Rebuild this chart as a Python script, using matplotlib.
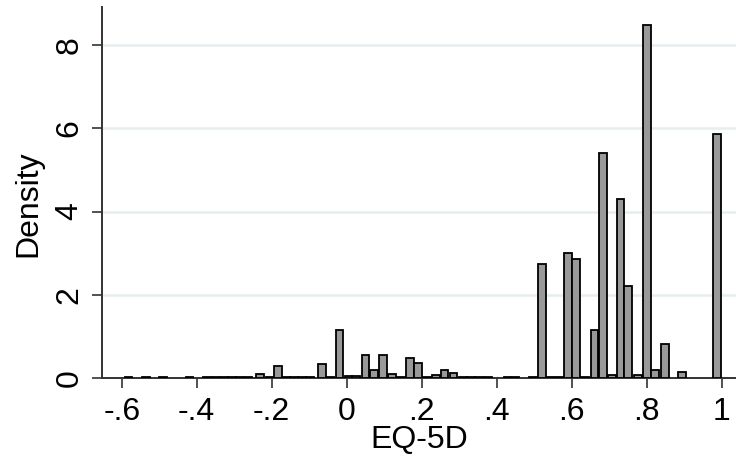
import matplotlib
matplotlib.use("Agg")
import matplotlib.pyplot as plt

# ---- data (EQ-5D value at bar centre, density) ----
eq5d_values = [
    -0.582, -0.536, -0.490, -0.419,
    -0.372, -0.350, -0.328, -0.306, -0.284, -0.262,
    -0.231, -0.206, -0.183,
    -0.162, -0.140, -0.119, -0.098,
    -0.066, -0.045, -0.019,
    0.005, 0.025, 0.050, 0.072, 0.097, 0.120, 0.144,
    0.168, 0.190, 0.214, 0.238, 0.261, 0.285,
    0.310, 0.332, 0.353, 0.376,
    0.429, 0.450, 0.496, 0.520, 0.542, 0.566,
    0.590, 0.611, 0.636, 0.661, 0.684, 0.707,
    0.730, 0.751, 0.776, 0.800, 0.822, 0.848, 0.894, 0.988,
]
density = [
    0.035, 0.035, 0.035, 0.035,
    0.02, 0.02, 0.02, 0.02, 0.02, 0.02,
    0.10, 0.02, 0.30,
    0.02, 0.02, 0.02, 0.02,
    0.34, 0.03, 1.16,
    0.05, 0.05, 0.57, 0.19, 0.57, 0.10, 0.02,
    0.49, 0.37, 0.02, 0.09, 0.19, 0.12,
    0.02, 0.02, 0.02, 0.02,
    0.02, 0.02, 0.03, 2.74, 0.02, 0.02,
    3.00, 2.86, 0.02, 1.16, 5.40, 0.07,
    4.31, 2.22, 0.07, 8.48, 0.20, 0.82, 0.16, 5.85,
]
x_ticks = [-0.6, -0.4, -0.2, 0, 0.2, 0.4, 0.6, 0.8, 1.0]
x_tick_labels = ["-.6", "-.4", "-.2", "0", ".2", ".4", ".6", ".8", "1"]
y_ticks = [0, 2, 4, 6, 8]
y_tick_labels = ["0", "2", "4", "6", "8"]

plt.rcParams["font.family"] = ["Liberation Sans", "DejaVu Sans"]

W, H = 736, 461
fig = plt.figure(figsize=(W / 100, H / 100), dpi=100)
fig.patch.set_facecolor("white")

left_px, right_px, bottom_px, top_px = 101.7, 736, 378.3, 7.3
ax = fig.add_axes([left_px / W, (H - bottom_px) / H,
                   (right_px - left_px) / W, (bottom_px - top_px) / H])
ax.set_facecolor("white")

ax.bar(eq5d_values, density, width=0.0205, color="#999999",
       edgecolor="black", linewidth=1.3, zorder=3)

ax.set_xlim(-0.6533, 1.0381)
ax.set_ylim(0, 8.90)

ax.set_xticks(x_ticks)
ax.set_xticklabels(x_tick_labels)
ax.set_yticks(y_ticks)
ax.set_yticklabels(y_tick_labels, rotation=90, va="center")

for y in y_ticks[1:]:
    ax.axhline(y, color="#e6eef0", linewidth=1.8, zorder=1)

for side in ("top", "right"):
    ax.spines[side].set_visible(False)
for side in ("left", "bottom"):
    ax.spines[side].set_color("#333333")
    ax.spines[side].set_linewidth(1.4)

ax.tick_params(axis="both", length=7.5, width=1.2, color="#333333",
               labelsize=23, labelcolor="black")
ax.tick_params(axis="y", pad=5)
ax.tick_params(axis="x", pad=6)

ax.set_xlabel("EQ-5D", fontsize=23)
ax.set_ylabel("Density", fontsize=23)
ax.xaxis.set_label_coords(0.5, -0.125)
ax.yaxis.set_label_coords(-0.092, 0.47)

fig.savefig("out.png", dpi=100, facecolor="white")
